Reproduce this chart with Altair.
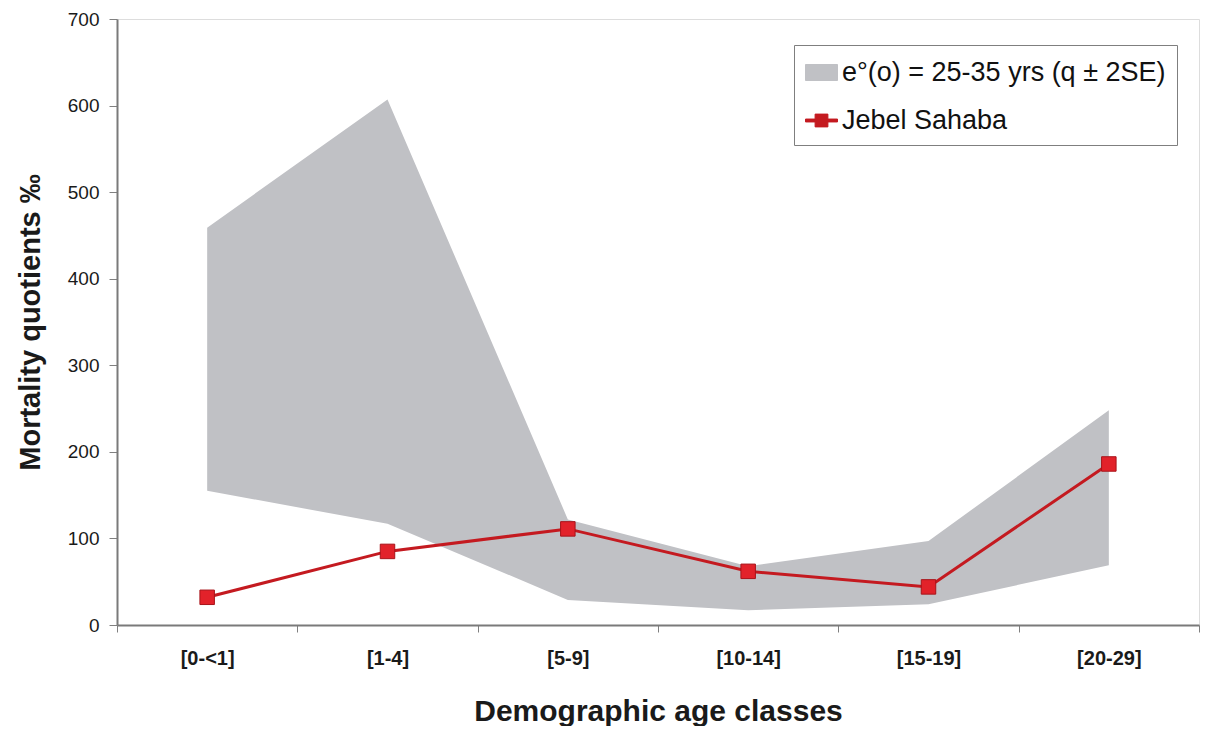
import altair as alt
import pandas as pd

cats = ["[0-<1]", "[1-4]", "[5-9]", "[10-14]", "[15-19]", "[20-29]"]
band_lo = [155, 117, 29, 17, 24, 69]
band_hi = [459, 607, 122, 68, 97, 248]
jebel = [32, 85, 111, 62, 44, 186]
y_ticks = [0, 100, 200, 300, 400, 500, 600, 700]

s_band = "e°(o) = 25-35 yrs (q ± 2SE)"
s_jebel = "Jebel Sahaba"

GRAY = "#c0c1c5"
RED = "#c41a20"
RED_FILL = "#e2222a"
RED_EDGE = "#a8141a"
FONT = "Liberation Sans"

band_df = pd.DataFrame({"cat": cats, "lo": band_lo, "hi": band_hi, "series": s_band})
line_df = pd.DataFrame({"cat": cats, "q": jebel, "series": s_jebel})

path_band = "M-1,-0.5H1V0.5H-1Z"
path_jebel = "M-1,-0.09H-0.4V-0.4H0.4V-0.09H1V0.09H0.4V0.4H-0.4V0.09H-1Z"
is_j = "datum.value === '" + s_jebel + "'"

xenc = alt.X(
    "cat:N", sort=cats, bandPosition=0.5,
    scale=alt.Scale(type="band", paddingInner=0, paddingOuter=0, domain=cats),
    axis=alt.Axis(
        title="Demographic age classes", tickBand="extent", labelAngle=0,
        labelFont=FONT, labelFontSize=20, labelFontWeight="bold", labelColor="#1a1a1a",
        labelPadding=16, tickSize=7, tickColor="#808080", tickWidth=1,
        domainColor="#7a7a7a", domainWidth=2,
        titleFont=FONT, titleFontSize=30, titleFontWeight="bold", titleColor="#1a1a1a",
        titleY=86, titleBaseline="middle", grid=False,
    ),
)

yscale = alt.Scale(domain=[0, 700], nice=False)
yaxis = alt.Axis(
    title="Mortality quotients ‰", values=y_ticks, grid=False,
    labelFont=FONT, labelFontSize=19, labelColor="#1a1a1a", labelPadding=10,
    tickSize=8, tickColor="#808080", tickWidth=1,
    domainColor="#7a7a7a", domainWidth=2,
    titleFont=FONT, titleFontSize=29, titleFontWeight="bold", titleColor="#1a1a1a",
    titleX=-87, titleY=303, titleBaseline="middle", titleAngle=-90,
)

color = alt.Color(
    "series:N",
    scale=alt.Scale(domain=[s_band, s_jebel], range=[GRAY, RED]),
    legend=alt.Legend(
        title=None, orient="none", legendX=677, legendY=26, padding=11,
        symbolSize=1024, rowPadding=18, labelOffset=4, labelLimit=0,
        labelFont=FONT, labelFontSize=27, labelColor="#111111",
        strokeColor="#7f7f7f", fillColor="white", symbolStrokeWidth=1,
        symbolOpacity=1,
        symbolType=alt.ExprRef(is_j + " ? '" + path_jebel + "' : '" + path_band + "'"),
        symbolFillColor=alt.ExprRef(is_j + " ? '" + RED_FILL + "' : '" + GRAY + "'"),
        symbolStrokeColor=alt.ExprRef(is_j + " ? '" + RED_EDGE + "' : '" + GRAY + "'"),
    ),
)

area = alt.Chart(band_df).mark_area(opacity=1, fillOpacity=1).encode(
    x=xenc,
    y=alt.Y("hi:Q", scale=yscale, axis=yaxis),
    y2="lo:Q",
    color=color,
)

line = alt.Chart(line_df).mark_line(strokeWidth=3).encode(
    x=xenc,
    y=alt.Y("q:Q", scale=yscale),
    color=color,
)

pts = alt.Chart(line_df).mark_square(
    size=210, filled=True, fill=RED_FILL, stroke=RED_EDGE, strokeWidth=1, opacity=1
).encode(
    x=xenc,
    y=alt.Y("q:Q", scale=yscale),
)

chart = alt.layer(area, line, pts).properties(
    width=1082, height=606,
    autosize=alt.AutoSizeParams(type="none"),
    padding={"left": 109, "top": 11, "right": 1, "bottom": 101},
).configure_view(
    stroke="#8a8a8a", strokeWidth=1.5
).configure(background="white")

chart.save("out.html", embed_options={"renderer": "svg", "actions": False})
